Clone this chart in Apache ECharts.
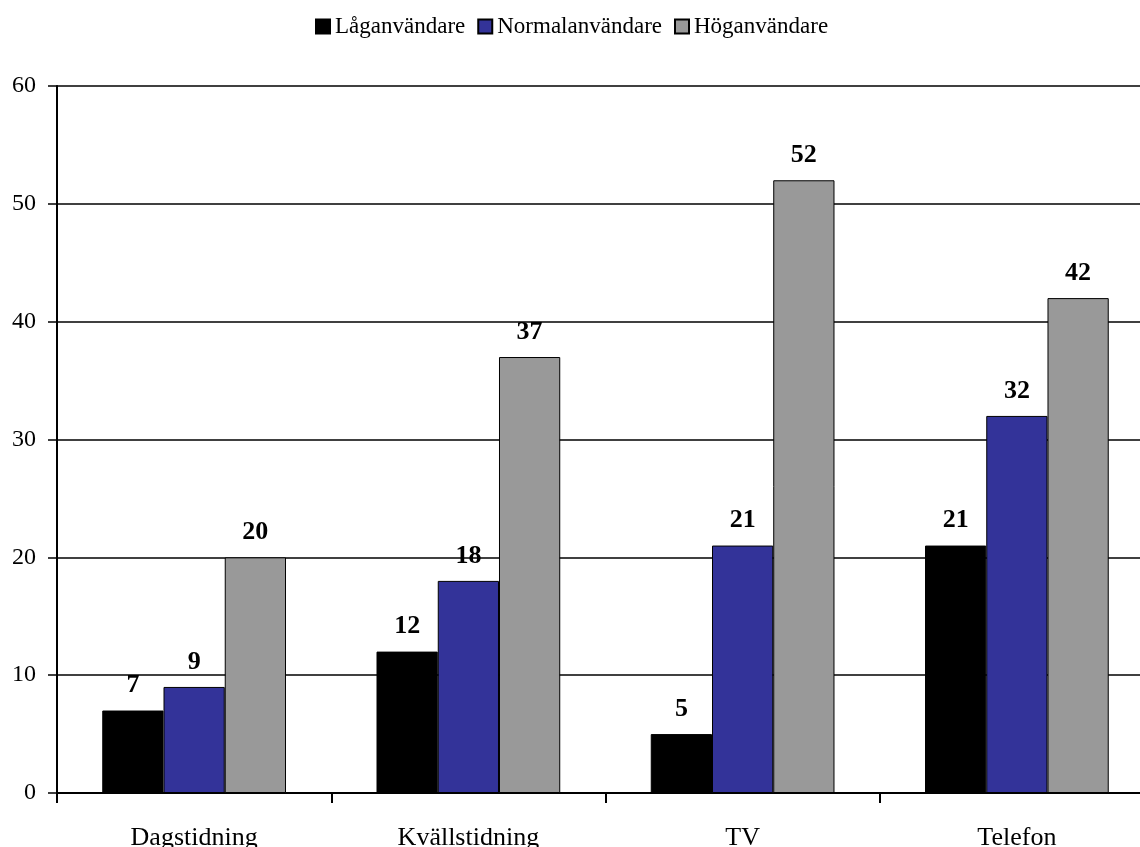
<!DOCTYPE html>
<html>
<head>
<meta charset="utf-8">
<script src="https://cdn.jsdelivr.net/npm/echarts@6/dist/echarts.min.js"></script>
<style>
  html, body { margin: 0; padding: 0; background: #fff; }
  #chart { width: 1140px; height: 847px; }
</style>
</head>
<body>
<div id="chart"></div>
<script>
// data
const categories = ['Dagstidning', 'Kvällstidning', 'TV', 'Telefon']
const seriesNames = ['Låganvändare', 'Normalanvändare', 'Höganvändare']
const lagData = [7, 12, 5, 21]
const normalData = [9, 18, 21, 32]
const hogData = [20, 37, 52, 42]

const font = 'Liberation Serif, Times New Roman, serif'
const colors = ['#000000', '#333399', '#999999']

const makeSeries = (name, data, i) => ({
  name: name,
  type: 'bar',
  data: data,
  barGap: '0%',
  barCategoryGap: '33%',
  itemStyle: {
    color: colors[i],
    borderColor: '#000',
    borderWidth: 1,
  },
  label: {
    show: true,
    position: 'top',
    distance: 12,
    color: '#000',
    fontFamily: font,
    fontWeight: 'bold',
    fontSize: 26,
  },
})

const myEchart = echarts.init(document.querySelector('#chart'), null, { renderer: 'canvas' })
myEchart.setOption({
  animation: false,
  backgroundColor: '#fff',
  legend: {
    top: 10,
    left: 310,
    itemWidth: 14,
    itemHeight: 14,
    itemGap: 12,
    icon: 'rect',
    textStyle: {
      fontFamily: font,
      fontSize: 23,
      color: '#000',
    },
    data: seriesNames,
  },
  // plot runs past the right edge of the picture, as in the original
  grid: {
    left: 57,
    width: 1097,
    top: 86,
    bottom: 54,
    containLabel: false,
    outerBoundsMode: 'none',
  },
  xAxis: {
    type: 'category',
    data: categories,
    axisLine: { lineStyle: { color: '#000', width: 2 } },
    axisTick: { show: true, inside: false, length: 10, lineStyle: { color: '#000', width: 2 } },
    axisLabel: {
      color: '#000',
      fontFamily: font,
      fontSize: 26,
      margin: 32,
    },
  },
  yAxis: {
    type: 'value',
    min: 0,
    max: 60,
    interval: 10,
    axisLine: { show: true, lineStyle: { color: '#000', width: 2 } },
    axisTick: { show: true, length: 9, lineStyle: { color: '#000', width: 1.5 } },
    splitLine: { show: true, lineStyle: { color: '#000', width: 1.5 } },
    axisLabel: {
      color: '#000',
      fontFamily: font,
      fontSize: 24,
      margin: 21,
    },
  },
  series: [
    makeSeries(seriesNames[0], lagData, 0),
    makeSeries(seriesNames[1], normalData, 1),
    makeSeries(seriesNames[2], hogData, 2),
  ],
})
</script>
</body>
</html>
